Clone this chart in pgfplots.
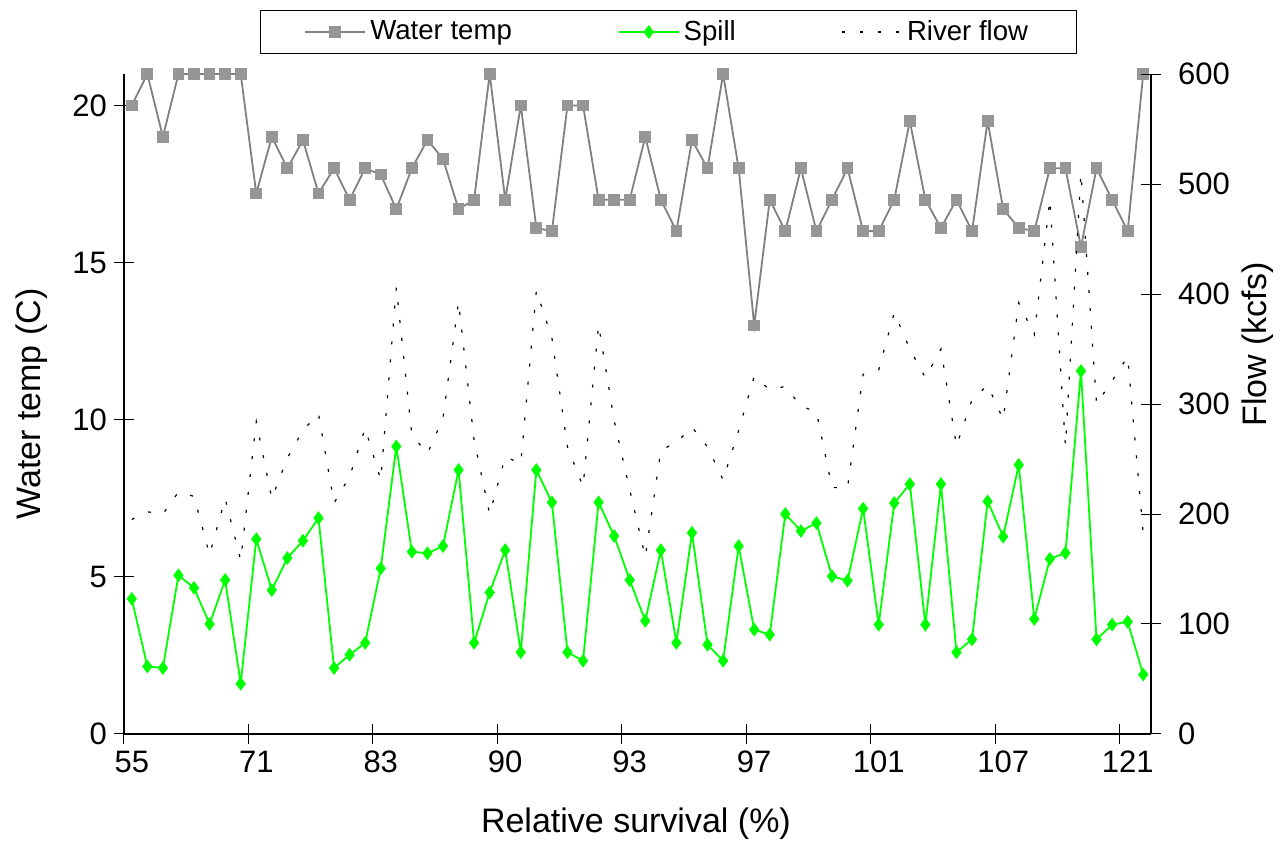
\documentclass[border=0pt]{standalone}
\usepackage{pgfplots}
\pgfplotsset{compat=1.18}
\usepackage{pgfplotstable}
\usepackage{fontspec}
\setmainfont{Liberation Sans}
\usetikzlibrary{calc}

\definecolor{wtline}{RGB}{128,128,128}
\definecolor{wtmark}{RGB}{150,150,150}
\definecolor{spillgreen}{RGB}{0,255,0}

% x = position of the category, wt = water temp (C), sp = spill, fl = river flow (kcfs)
\pgfplotstableread{
x wt sp fl
1 20 4.3 195
2 21 2.15 202
3 19 2.1 200
4 21 5.05 220
5 21 4.65 216
6 21 3.5 163
7 21 4.9 214
8 21 1.6 158
9 17.2 6.2 284
10 19 4.58 214
11 18 5.6 251
12 18.9 6.15 276
13 17.2 6.87 291
14 18 2.1 210
15 17 2.52 234
16 18 2.9 278
17 17.8 5.27 231
18 16.7 9.15 406
19 18 5.8 272
20 18.9 5.75 255
21 18.3 5.98 287
22 16.7 8.4 393
23 17 2.9 267
24 21 4.5 200
25 17 5.85 252
26 20 2.6 246
27 16.1 8.4 403
28 16 7.37 360
29 20 2.6 261
30 20 2.33 225
31 17 7.37 372
32 17 6.3 285
33 17 4.9 222
34 19 3.6 161
35 17 5.85 258
36 16 2.9 265
37 18.9 6.4 279
38 18 2.84 261
39 21 2.33 231
40 18 5.98 276
41 13 3.32 325
42 17 3.16 313
43 16 7.0 316
44 18 6.46 298
45 16 6.71 293
46 17 5.02 224
47 18 4.88 224
48 16 7.17 327
49 16 3.48 331
50 17 7.35 383
51 19.5 7.95 350
52 17 3.48 324
53 16.1 7.95 350
54 17 2.6 262
55 16 3.01 304
56 19.5 7.4 317
57 16.7 6.28 286
58 16.1 8.56 392
59 16 3.66 363
60 18 5.57 486
61 18 5.76 262
62 15.5 11.55 510
63 18 3.01 300
64 17 3.48 321
65 16 3.57 343
66 21 1.89 182
}\datatable

\pgfplotsset{
  wtstyle/.style={wtline, line width=0.9pt, mark=square*, mark size=2.5pt,
    mark options={solid, fill=wtmark, draw=wtmark}},
  spstyle/.style={spillgreen, line width=0.9pt, mark=diamond*, mark size=2.7pt,
    mark options={solid, fill=spillgreen, draw=spillgreen}},
  flstyle/.style={black, line width=0.6pt, dash pattern=on 1.5pt off 7.5pt},
  base/.style={
    width=513.5pt, height=330pt, scale only axis,
    xmin=0.5, xmax=66.5,
    tick align=center, major tick length=10pt,
    axis line style={-, line width=0.7pt},
    every tick/.style={black, line width=0.5pt},
    tick label style={font=\fontsize{15.5}{18}\selectfont},
    label style={font=\fontsize{17}{20}\selectfont},
    /pgf/number format/assume math mode=true,
    clip=false,
  },
}

\begin{document}
\begin{tikzpicture}
\begin{axis}[base,
  axis x line*=bottom, axis y line*=left,
  ymin=0, ymax=21, ytick={0,5,...,20},
  xtick={1,9,...,65},
  xticklabels={55,71,83,90,93,97,101,107,121},
  xtick style={draw=none},
  xlabel={Relative survival (\%)},
  ylabel={Water temp (C)},
  xlabel style={at={(axis description cs:0.4985,-0.136)}, anchor=center},
  ylabel style={at={(axis description cs:-0.0896,0.5)}, anchor=center},
]
\coordinate (O) at (rel axis cs:0,0);
\addplot[wtstyle] table[x=x, y=wt] {\datatable};
\addplot[spstyle] table[x=x, y=sp] {\datatable};
\end{axis}

\begin{axis}[base,
  axis x line*=bottom, axis y line*=right,
  ymin=0, ymax=600, ytick={0,100,...,600},
  yticklabel style={xshift=5pt},
  xtick={0.5,8.5,...,64.5}, xticklabels={},
  ylabel={Flow (kcfs)},
  ylabel style={at={(axis description cs:1.104,0.59)}, anchor=center},
  legend columns=3,
  legend style={at={(rel axis cs:0.1324,1.097)}, anchor=north west,
    draw=black, line width=0.5pt, inner xsep=22pt, inner ysep=3pt,
    font=\fontsize{13.8}{16}\selectfont,
    /tikz/every even column/.append style={column sep=51pt}},
  legend image code/.code={%
    \draw[mark repeat=2, mark phase=2, #1] plot coordinates {(0pt,0pt) (15pt,0pt) (30pt,0pt)};},
]
\addlegendimage{wtstyle}
\addlegendentry{Water temp}
\addlegendimage{spstyle}
\addlegendentry{Spill}
\addplot[flstyle] table[x=x, y=fl] {\datatable};
\addlegendentry{River flow}
\end{axis}

\pgfresetboundingbox
\path[use as bounding box] ($(O)+(-62pt,-56pt)$) rectangle ++(643pt,423pt);
\end{tikzpicture}
\end{document}
